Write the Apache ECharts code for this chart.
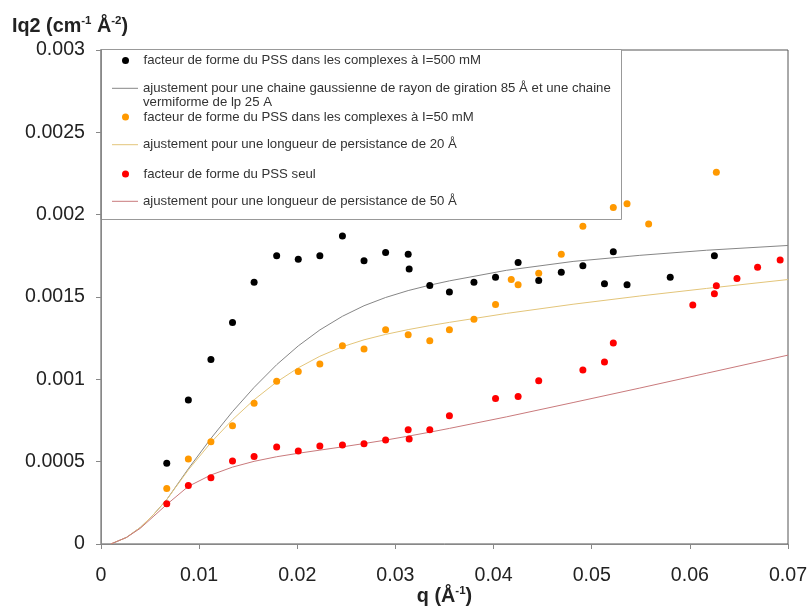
<!DOCTYPE html>
<html>
<head>
<meta charset="utf-8">
<script src="https://cdn.jsdelivr.net/npm/echarts@6/dist/echarts.min.js"></script>
<style>html,body{margin:0;padding:0;background:#fff;}#c{width:808px;height:607px;}</style>
</head>
<body>
<div id="c"></div>
<script>
// ---- data ----
const seriesNames = [
  'facteur de forme du PSS dans les complexes à I=500 mM',
  'ajustement pour une chaine gaussienne de rayon de giration 85 Å et une chaine',
  'facteur de forme du PSS dans les complexes à I=50 mM',
  'ajustement pour une longueur de persistance de 20 Å',
  'facteur de forme du PSS seul',
  'ajustement pour une longueur de persistance de 50 Å'
];
const legendExtraLine = 'vermiforme de lp 25 A';

const qBlack = [0.0067,0.0089,0.0112,0.0134,0.0156,0.0179,0.0201,0.0223,0.0246,0.0268,0.0290,0.0313,0.0314,0.0335,0.0355,0.0380,0.0402,0.0425,0.0446,0.0469,0.0491,0.0513,0.0522,0.0536,0.0580,0.0625];
const iBlack = [0.00049,0.000875,0.00112,0.001345,0.00159,0.00175,0.00173,0.00175,0.00187,0.00172,0.00177,0.00176,0.00167,0.00157,0.00153,0.00159,0.00162,0.00171,0.0016,0.00165,0.00169,0.00158,0.001775,0.001575,0.00162,0.00175];

const qOrange = [0.0067,0.0089,0.0112,0.0134,0.0156,0.0179,0.0201,0.0223,0.0246,0.0268,0.0290,0.0313,0.0335,0.0355,0.0380,0.0402,0.0418,0.0425,0.0446,0.0469,0.0491,0.0522,0.0536,0.0558,0.0627];
const iOrange = [0.000337,0.000516,0.000621,0.000718,0.000855,0.000988,0.001048,0.001093,0.001204,0.001184,0.001301,0.00127,0.001234,0.001301,0.001365,0.001454,0.001607,0.001575,0.001644,0.00176,0.00193,0.002043,0.002067,0.001944,0.002258];

const qRed = [0.0067,0.0089,0.0112,0.0134,0.0156,0.0179,0.0201,0.0223,0.0246,0.0268,0.0290,0.0313,0.0314,0.0335,0.0355,0.0402,0.0425,0.0446,0.0491,0.0513,0.0522,0.0603,0.0625,0.0627,0.0648,0.0669,0.0692];
const iRed = [0.000244,0.000355,0.000403,0.000504,0.000532,0.000589,0.000565,0.000595,0.000601,0.000609,0.000631,0.000694,0.000637,0.000694,0.000779,0.000883,0.000895,0.000992,0.001057,0.001105,0.00122,0.001452,0.00152,0.001569,0.001613,0.00168,0.001724];

const qFit = [0.001,0.0026,0.004,0.0053,0.0067,0.0089,0.0112,0.0134,0.0156,0.0179,0.0201,0.0223,0.0246,0.0268,0.0290,0.0313,0.0335,0.0355,0.0413,0.0481,0.0549,0.0617,0.0700];
const iFitGauss = [0,0.00004,0.0001,0.000175,0.00027,0.000457,0.000641,0.000804,0.000951,0.001089,0.001203,0.0013,0.001383,0.001447,0.001497,0.001539,0.001572,0.001598,0.001662,0.001716,0.001753,0.001784,0.001813];
const iFit20 = [0,0.00004,0.0001,0.000175,0.00027,0.00045,0.000616,0.000755,0.000876,0.000984,0.00107,0.00114,0.001198,0.00124,0.001273,0.001302,0.001326,0.001346,0.0014,0.001456,0.001506,0.001552,0.001606];
const iFit50 = [0,0.00004,0.000095,0.000165,0.00024,0.00035,0.000419,0.000467,0.000502,0.00053,0.000551,0.00057,0.00059,0.00061,0.000631,0.000655,0.000679,0.000702,0.000772,0.000859,0.000947,0.001037,0.001147];

const xTicks = [0,0.01,0.02,0.03,0.04,0.05,0.06,0.07];
const yTicks = [0,0.0005,0.001,0.0015,0.002,0.0025,0.003];

// ---- build chart ----
const zip = (a, b) => a.map((v, i) => [v, b[i]]);
const fmt = v => String(parseFloat(Number(v).toFixed(5)));
const FONT = '"Liberation Sans", Arial, sans-serif';

const colors = ['#000000', '#868686', '#ff9900', '#e3c57a', '#ff0000', '#c97a7c'];
const isLine = [false, true, false, true, false, true];
const legendCenters = [60.5, 88.3, 117, 144.7, 174, 201.3];

const scatter = (name, data, color) => ({
  name, type: 'scatter', data, symbol: 'circle', symbolSize: 7,
  itemStyle: { color, opacity: 1 }, z: 3
});
const line = (name, data, color) => ({
  name, type: 'line', data, symbol: 'none', showSymbol: false,
  smooth: false,
  lineStyle: { color, width: 1 }, itemStyle: { color }, z: 2
});

const series = [
  scatter(seriesNames[0], zip(qBlack, iBlack), colors[0]),
  line(seriesNames[1], zip(qFit, iFitGauss), colors[1]),
  scatter(seriesNames[2], zip(qOrange, iOrange), colors[2]),
  line(seriesNames[3], zip(qFit, iFit20), colors[3]),
  scatter(seriesNames[4], zip(qRed, iRed), colors[4]),
  line(seriesNames[5], zip(qFit, iFit50), colors[5])
];

const legends = seriesNames.map((n, i) => ({
  data: [n], orient: 'vertical',
  left: isLine[i] ? 112 : 122,
  top: legendCenters[i] - 7,
  padding: 0, itemWidth: 26, itemHeight: isLine[i] ? 1 : 7, itemGap: 0,
  icon: isLine[i] ? 'rect' : undefined,
  selectedMode: false,
  textStyle: { fontFamily: FONT, fontSize: 13.2, color: '#333', lineHeight: 14 }
}));

const titleRich = {
  b: { fontFamily: FONT, fontSize: 19.8, fontWeight: 'bold', color: '#222', lineHeight: 24 },
  s: { fontFamily: FONT, fontSize: 11.5, fontWeight: 'bold', color: '#222', verticalAlign: 'top', lineHeight: 24, padding: [0, 0, 8, 0] }
};

const chart = echarts.init(document.getElementById('c'), null, { renderer: 'canvas' });
chart.setOption({
  backgroundColor: '#ffffff',
  animation: false,
  title: {
    left: 12, top: 15, padding: 0,
    text: '{b|Iq2 (cm}{s|-1}{b| Å}{s|-2}{b|)}',
    textStyle: { rich: titleRich }
  },
  legend: legends,
  grid: {
    left: 101, right: 20, top: 50, bottom: 63,
    containLabel: false, outerBoundsMode: 'none',
    show: true, borderColor: '#555', borderWidth: 1, backgroundColor: 'transparent'
  },
  graphic: [
    {
      type: 'rect', z: 0,
      shape: { x: 100.5, y: 49.5, width: 521, height: 170 },
      style: { fill: '#fff', stroke: '#999', lineWidth: 1 }
    },
    {
      type: 'text', z: 5, left: 143, top: 96,
      style: { text: legendExtraLine, font: '13.2px ' + FONT, fill: '#333' }
    }
  ],
  xAxis: {
    type: 'value', min: xTicks[0], max: xTicks[xTicks.length - 1], interval: xTicks[1] - xTicks[0],
    name: '{b|q (Å}{s|-1}{b|)}', nameLocation: 'middle', nameGap: 41, nameMoveOverlap: false,
    nameTextStyle: { rich: titleRich },
    splitLine: { show: false },
    axisLine: { show: true, onZero: false, lineStyle: { color: '#888', width: 1 } },
    axisTick: { show: true, inside: false, length: 5, lineStyle: { color: '#888' } },
    axisLabel: { fontFamily: FONT, fontSize: 19.6, color: '#222', margin: 22, formatter: fmt }
  },
  yAxis: {
    type: 'value', min: yTicks[0], max: yTicks[yTicks.length - 1], interval: yTicks[1] - yTicks[0],
    splitLine: { show: false },
    axisLine: { show: true, onZero: false, lineStyle: { color: '#888', width: 1 } },
    axisTick: { show: true, inside: false, length: 5, lineStyle: { color: '#888' } },
    axisLabel: { fontFamily: FONT, fontSize: 19.6, color: '#222', margin: 16, formatter: fmt }
  },
  series
});
</script>
</body>
</html>
